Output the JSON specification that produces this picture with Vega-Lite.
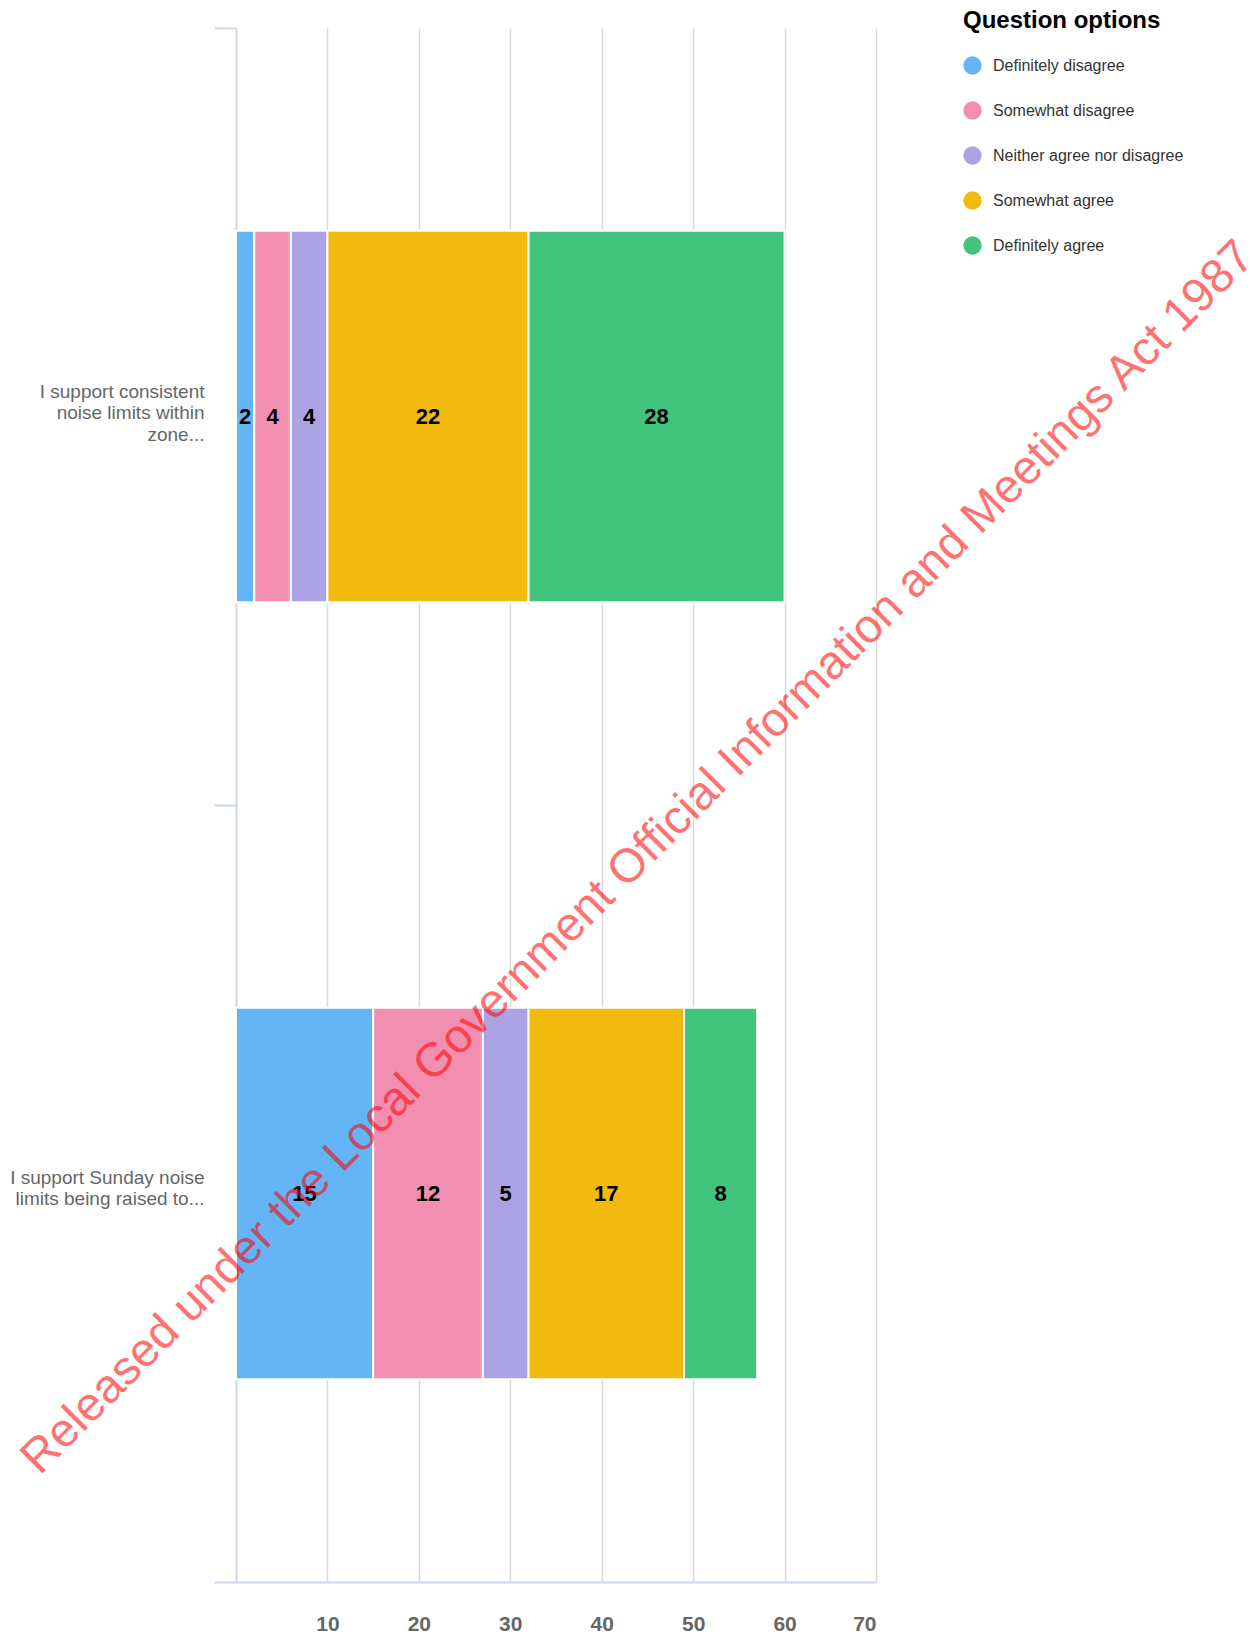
{
  "$schema": "https://vega.github.io/schema/vega-lite/v6.json",
  "autosize": {"type": "none"},
  "padding": {"left": 236, "top": 28, "right": 378, "bottom": 60},
  "width": 640,
  "height": 1554,
  "background": "white",
  "config": {
    "font": "Liberation Sans",
    "view": {"stroke": null}
  },
  "datasets": {
    "survey": [
      {"question": "I support consistent noise limits within zone...", "option": "Definitely disagree", "rank": 1, "count": 2},
      {"question": "I support consistent noise limits within zone...", "option": "Somewhat disagree", "rank": 2, "count": 4},
      {"question": "I support consistent noise limits within zone...", "option": "Neither agree nor disagree", "rank": 3, "count": 4},
      {"question": "I support consistent noise limits within zone...", "option": "Somewhat agree", "rank": 4, "count": 22},
      {"question": "I support consistent noise limits within zone...", "option": "Definitely agree", "rank": 5, "count": 28},
      {"question": "I support Sunday noise limits being raised to...", "option": "Definitely disagree", "rank": 1, "count": 15},
      {"question": "I support Sunday noise limits being raised to...", "option": "Somewhat disagree", "rank": 2, "count": 12},
      {"question": "I support Sunday noise limits being raised to...", "option": "Neither agree nor disagree", "rank": 3, "count": 5},
      {"question": "I support Sunday noise limits being raised to...", "option": "Somewhat agree", "rank": 4, "count": 17},
      {"question": "I support Sunday noise limits being raised to...", "option": "Definitely agree", "rank": 5, "count": 8}
    ],
    "stamp": [
      {"text": "Released under the Local Government Official Information and Meetings Act 1987", "px": 44.0, "question": "I support Sunday noise limits being raised to..."}
    ]
  },
  "layer": [
    {
      "data": {"name": "survey"},
      "mark": {"type": "bar", "stroke": "white", "strokeWidth": 2, "height": {"band": 0.478}},
      "encoding": {
        "y": {
          "field": "question", "type": "nominal", "sort": null, "title": null,
          "scale": {
            "domain": ["I support consistent noise limits within zone...", "I support Sunday noise limits being raised to..."],
            "paddingInner": 0, "paddingOuter": 0
          },
          "axis": {
            "orient": "left",
            "domain": false, "ticks": false, "grid": false,
            "labelPadding": 32,
            "labelFontSize": 19, "labelColor": "#666666", "labelLineHeight": 21.5,
            "labelAlign": "right", "labelBaseline": "middle", "labelLimit": 300,
            "labelOffset": {"condition": {"test": "datum.value == 'I support consistent noise limits within zone...'", "value": -25}, "value": -16},
            "labelExpr": "datum.value == 'I support consistent noise limits within zone...' ? ['I support consistent', 'noise limits within', 'zone...'] : ['I support Sunday noise', 'limits being raised to...']"
          }
        },
        "x": {
          "field": "count", "type": "quantitative", "stack": "zero", "title": null,
          "scale": {"domain": [0, 70], "nice": false},
          "axis": {
            "values": [10, 20, 30, 40, 50, 60, 70],
            "grid": true, "gridColor": "#d9d9d9", "gridWidth": 1.5,
            "ticks": false,
            "domainColor": "#ccd6eb", "domainWidth": 2,
            "labelFontSize": 21, "labelFontWeight": "bold", "labelColor": "#666666",
            "labelPadding": 31
          }
        },
        "color": {
          "field": "option", "type": "nominal",
          "sort": ["Definitely disagree", "Somewhat disagree", "Neither agree nor disagree", "Somewhat agree", "Definitely agree"],
          "scale": {
            "domain": ["Definitely disagree", "Somewhat disagree", "Neither agree nor disagree", "Somewhat agree", "Definitely agree"],
            "range": ["#64b5f6", "#f28fb1", "#aba3e3", "#f2b90f", "#40c47e"]
          },
          "legend": {
            "orient": "none", "legendX": 727, "legendY": -19,
            "title": "Question options", "titleFontSize": 24, "titleFontWeight": "bold", "titleColor": "#000000",
            "titlePadding": 23, "titleLimit": 400,
            "labelFontSize": 16, "labelColor": "#333333", "labelOffset": 11, "labelLimit": 400,
            "symbolType": "circle", "symbolSize": 335, "symbolStrokeWidth": 0, "symbolOpacity": 1,
            "rowPadding": 26, "padding": 0
          }
        },
        "order": {"field": "rank", "type": "quantitative"}
      }
    },
    {
      "data": {"name": "survey"},
      "mark": {"type": "text", "fontSize": 22, "fontWeight": "bold", "color": "#000000", "baseline": "middle", "align": "center"},
      "encoding": {
        "y": {
          "field": "question", "type": "nominal", "sort": null, "title": null,
          "axis": {
            "orient": "left",
            "tickBand": "extent",
            "labels": false, "grid": false,
            "domainColor": "#ccd6eb", "domainWidth": 2,
            "tickColor": "#ccd6eb", "tickWidth": 2, "tickSize": 22
          }
        },
        "x": {"field": "count", "type": "quantitative", "stack": "zero", "bandPosition": 0.5},
        "detail": {"field": "option", "type": "nominal"},
        "order": {"field": "rank", "type": "quantitative"},
        "text": {"field": "count", "type": "quantitative"}
      }
    },
    {
      "data": {"name": "stamp"},
      "mark": {"type": "text", "angle": -45, "fontSize": 47.5, "color": "#ff0000", "opacity": 0.55, "align": "center", "baseline": "middle"},
      "encoding": {
        "x": {"field": "px", "type": "quantitative"},
        "y": {"field": "question", "type": "nominal", "bandPosition": 0.068, "axis": null},
        "text": {"field": "text", "type": "nominal"}
      }
    }
  ],
  "resolve": {"axis": {"y": "independent"}}
}
